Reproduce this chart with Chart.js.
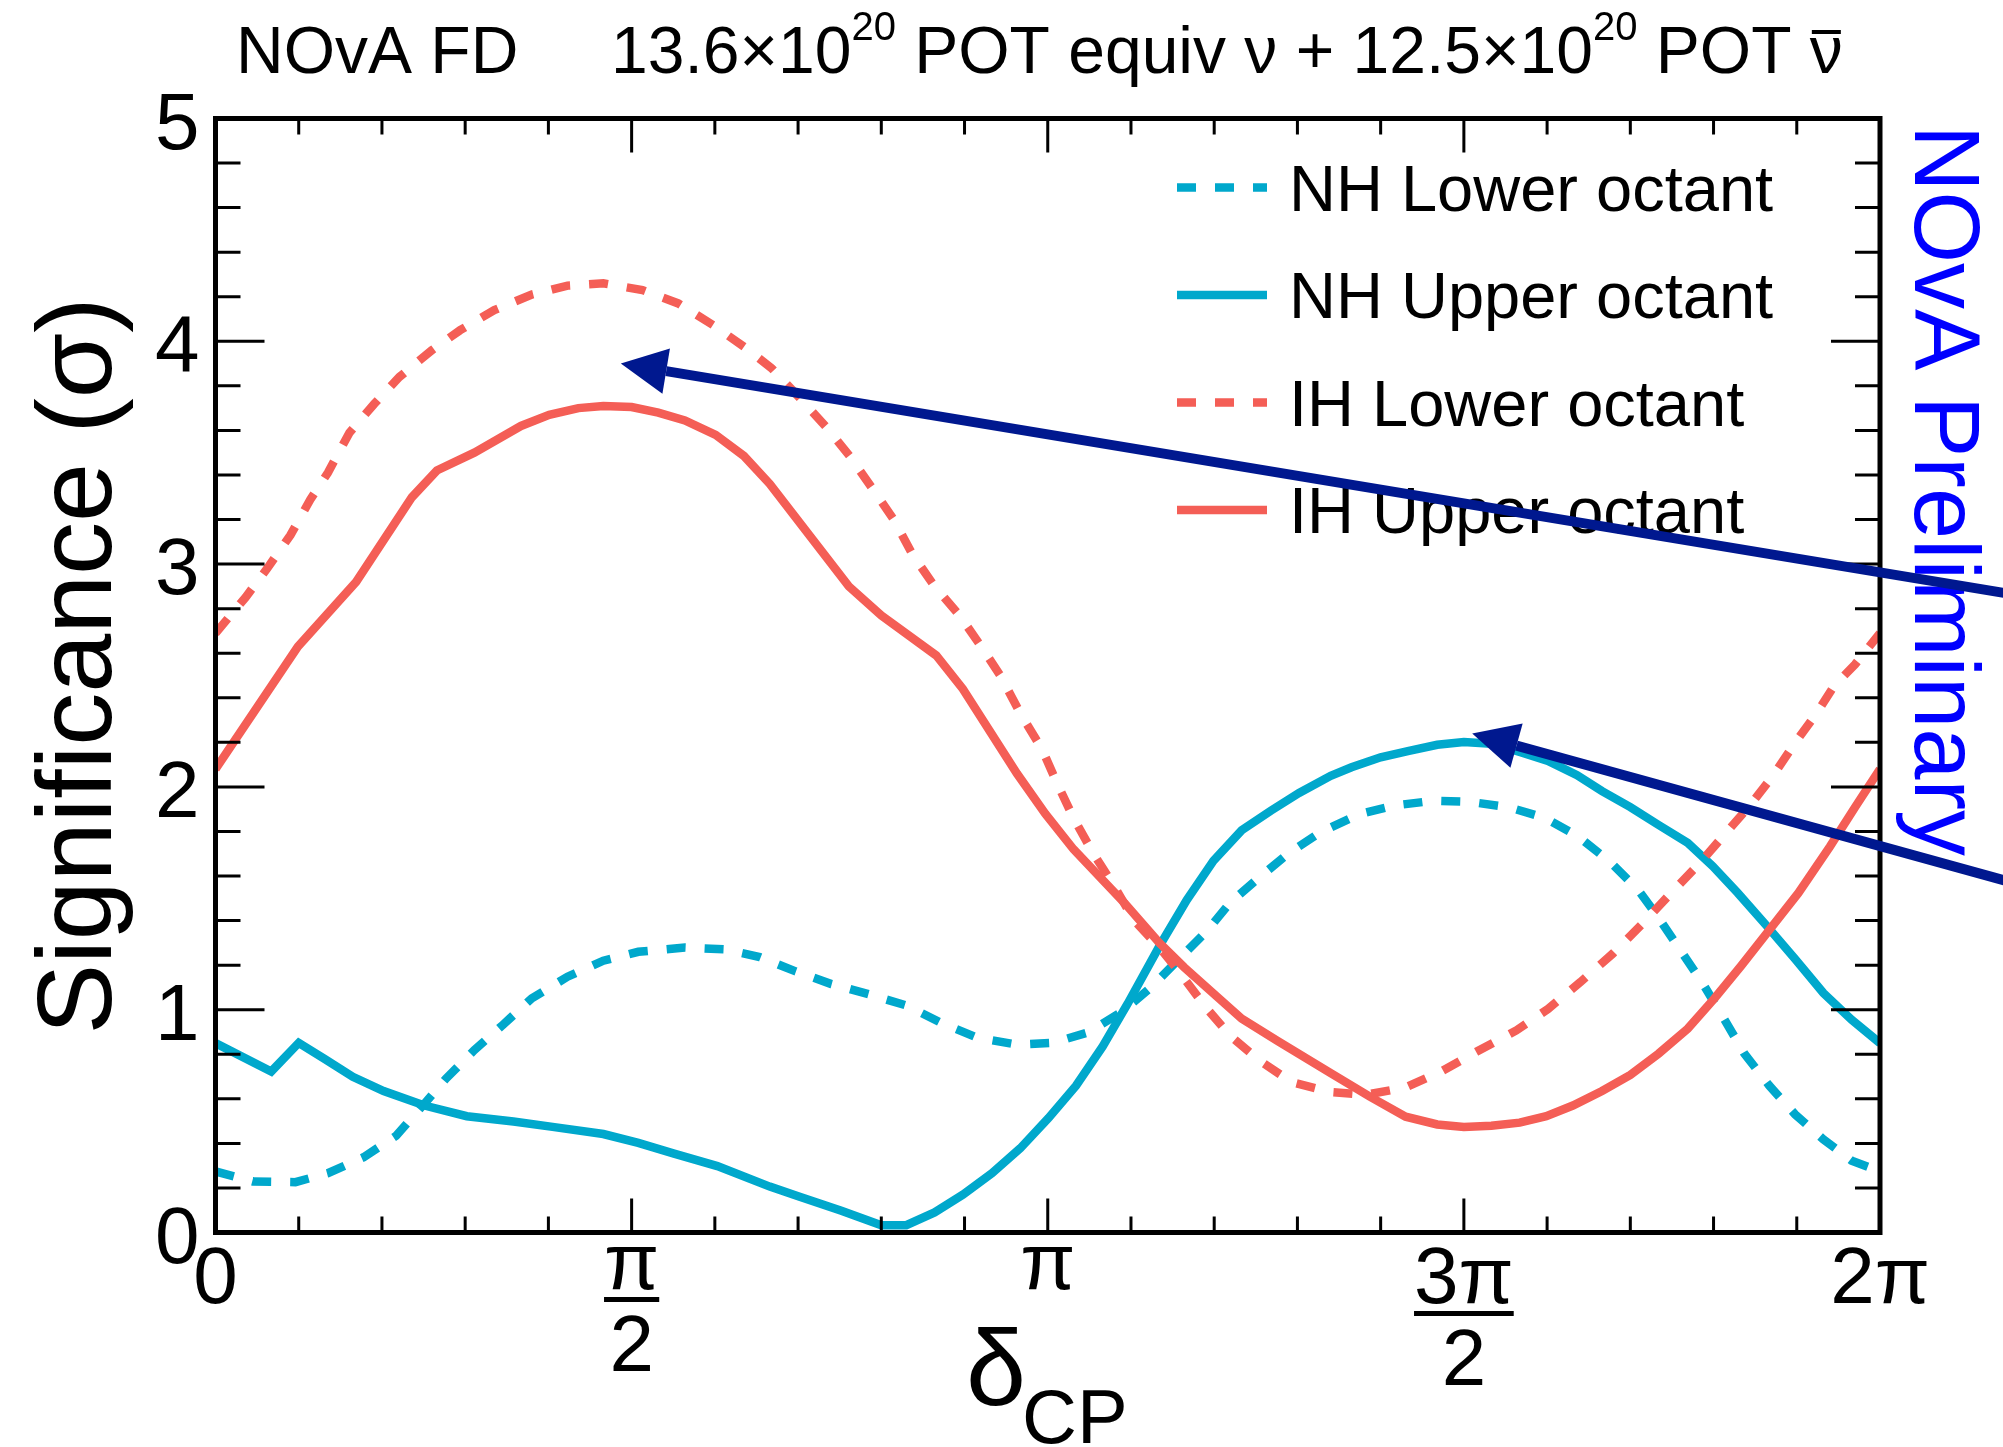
<!DOCTYPE html>
<html>
<head>
<meta charset="utf-8">
<title>NOvA FD significance vs deltaCP</title>
<script src="https://cdn.jsdelivr.net/npm/chart.js@4.4.1/dist/chart.umd.min.js"></script>
<style>
  html, body { margin: 0; padding: 0; background: #fff; }
  canvas { display: block; }
</style>
</head>
<body>
<canvas id="sigChart" width="2003" height="1447"></canvas>
<script>
// delta_CP in units of pi, significance in sigma
const nhLowerX = [0, 0.045, 0.096, 0.135, 0.178, 0.217, 0.251, 0.277, 0.311, 0.345, 0.380, 0.423, 0.466, 0.508, 0.564, 0.612, 0.654, 0.697, 0.740, 0.787, 0.830, 0.873, 0.915, 0.963, 1.006, 1.049, 1.091, 1.126, 1.160, 1.190, 1.220, 1.255, 1.289, 1.328, 1.374, 1.417, 1.464, 1.507, 1.554, 1.597, 1.636, 1.674, 1.709, 1.734, 1.760, 1.786, 1.812, 1.837, 1.867, 1.898, 1.932, 1.966, 2.0];
const nhLower = [0.274, 0.229, 0.226, 0.266, 0.338, 0.434, 0.578, 0.691, 0.819, 0.931, 1.051, 1.148, 1.220, 1.260, 1.279, 1.271, 1.236, 1.172, 1.115, 1.067, 1.019, 0.939, 0.875, 0.843, 0.851, 0.899, 0.995, 1.107, 1.236, 1.348, 1.484, 1.596, 1.701, 1.797, 1.877, 1.917, 1.938, 1.933, 1.909, 1.861, 1.781, 1.669, 1.540, 1.412, 1.268, 1.124, 0.963, 0.803, 0.659, 0.530, 0.418, 0.322, 0.274];

const nhUpperX = [0, 0.067, 0.100, 0.131, 0.165, 0.202, 0.251, 0.302, 0.358, 0.405, 0.466, 0.508, 0.551, 0.603, 0.666, 0.701, 0.752, 0.800, 0.830, 0.864, 0.898, 0.933, 0.967, 1.001, 1.034, 1.066, 1.096, 1.134, 1.167, 1.199, 1.233, 1.268, 1.302, 1.340, 1.365, 1.400, 1.434, 1.468, 1.500, 1.533, 1.567, 1.601, 1.636, 1.666, 1.700, 1.734, 1.769, 1.799, 1.829, 1.863, 1.898, 1.932, 1.966, 2.0];
const nhUpper = [0.85, 0.723, 0.851, 0.779, 0.699, 0.635, 0.570, 0.522, 0.498, 0.474, 0.442, 0.402, 0.354, 0.298, 0.206, 0.162, 0.098, 0.033, 0.033, 0.090, 0.170, 0.266, 0.378, 0.514, 0.659, 0.835, 1.027, 1.284, 1.492, 1.668, 1.805, 1.893, 1.973, 2.05, 2.088, 2.133, 2.162, 2.189, 2.201, 2.194, 2.157, 2.117, 2.053, 1.981, 1.909, 1.829, 1.749, 1.644, 1.524, 1.380, 1.228, 1.075, 0.955, 0.85];

const ihLowerX = [0, 0.036, 0.062, 0.090, 0.114, 0.135, 0.161, 0.191, 0.221, 0.260, 0.294, 0.335, 0.380, 0.423, 0.466, 0.513, 0.556, 0.599, 0.637, 0.668, 0.701, 0.735, 0.763, 0.791, 0.815, 0.838, 0.864, 0.894, 0.920, 0.943, 0.967, 0.993, 1.012, 1.031, 1.055, 1.079, 1.104, 1.134, 1.160, 1.190, 1.220, 1.255, 1.293, 1.340, 1.382, 1.430, 1.473, 1.515, 1.563, 1.601, 1.640, 1.679, 1.713, 1.747, 1.782, 1.812, 1.842, 1.872, 1.898, 1.923, 1.945, 1.970, 2.0];
const ihLower = [2.69, 2.85, 2.98, 3.13, 3.29, 3.41, 3.59, 3.72, 3.84, 3.96, 4.05, 4.14, 4.21, 4.25, 4.26, 4.23, 4.17, 4.07, 3.97, 3.88, 3.75, 3.61, 3.48, 3.33, 3.20, 3.04, 2.90, 2.77, 2.63, 2.50, 2.33, 2.17, 2.01, 1.86, 1.70, 1.56, 1.40, 1.28, 1.16, 1.01, 0.88, 0.77, 0.675, 0.63, 0.618, 0.651, 0.723, 0.811, 0.907, 1.003, 1.124, 1.252, 1.38, 1.516, 1.652, 1.781, 1.909, 2.053, 2.198, 2.326, 2.454, 2.55, 2.69];

const ihUpperX = [0, 0.099, 0.169, 0.236, 0.266, 0.311, 0.367, 0.401, 0.436, 0.466, 0.500, 0.532, 0.564, 0.601, 0.635, 0.666, 0.761, 0.800, 0.866, 0.898, 0.963, 0.997, 1.031, 1.092, 1.134, 1.164, 1.203, 1.233, 1.276, 1.340, 1.387, 1.430, 1.468, 1.500, 1.533, 1.567, 1.599, 1.631, 1.666, 1.700, 1.734, 1.769, 1.801, 1.833, 1.865, 1.902, 1.940, 1.970, 2.0];
const ihUpper = [2.08, 2.63, 2.92, 3.30, 3.42, 3.50, 3.62, 3.67, 3.70, 3.71, 3.705, 3.68, 3.645, 3.58, 3.485, 3.36, 2.90, 2.77, 2.59, 2.44, 2.06, 1.88, 1.72, 1.48, 1.30, 1.19, 1.06, 0.96, 0.86, 0.715, 0.61, 0.52, 0.485, 0.474, 0.479, 0.493, 0.522, 0.57, 0.635, 0.707, 0.803, 0.915, 1.05, 1.196, 1.348, 1.524, 1.733, 1.909, 2.08];

const seriesNames = ['NH Lower octant', 'NH Upper octant', 'IH Lower octant', 'IH Upper octant'];

const xTickValues = [0, 0.5, 1, 1.5, 2];
const xTickLabels = [['0'], ['π', '2'], ['π'], ['3π', '2'], ['2π']];
const yTickValues = [0, 1, 2, 3, 4, 5];
const yTickLabels = ['0', '1', '2', '3', '4', '5'];

// arrow tips and tails [x, y] in data units (tails run off the right edge)
const arrowTips = [[0.487, 3.90], [1.510, 2.24]];
const arrowTails = [[2.15, 2.87], [2.15, 1.58]];

const CYAN = 'rgb(0,168,204)';
const RED = 'rgb(244,94,86)';
const NAVY = 'rgb(0,24,143)';
const FONT = "'Liberation Sans', Arial, sans-serif";
const LW = 8.5;

function pts(xs, ys) {
  return xs.map((x, i) => ({ x: x, y: ys[i] }));
}

const decor = {
  id: 'decor',
  afterDatasetsDraw(chart) {
    const ctx = chart.ctx;
    const a = chart.chartArea;
    const xs = chart.scales.x;
    const ys = chart.scales.y;
    ctx.save();

    // frame
    ctx.strokeStyle = '#000';
    ctx.lineWidth = 5;
    ctx.setLineDash([]);
    ctx.strokeRect(a.left, a.top, a.right - a.left, a.bottom - a.top);

    // ticks on all four sides, pointing inwards
    ctx.lineWidth = 3;
    ctx.beginPath();
    for (let i = 0; i <= 20; i++) {
      const px = xs.getPixelForValue(i * 0.1);
      const len = i % 5 === 0 ? 34 : 16;
      ctx.moveTo(px, a.bottom); ctx.lineTo(px, a.bottom - len);
      ctx.moveTo(px, a.top); ctx.lineTo(px, a.top + len);
    }
    for (let i = 0; i <= 25; i++) {
      const py = ys.getPixelForValue(i * 0.2);
      const len = i % 5 === 0 ? 49 : 25;
      ctx.moveTo(a.left, py); ctx.lineTo(a.left + len, py);
      ctx.moveTo(a.right, py); ctx.lineTo(a.right - len, py);
    }
    ctx.stroke();

    ctx.fillStyle = '#000';
    // y tick labels
    ctx.font = '80px ' + FONT;
    ctx.textAlign = 'right';
    ctx.textBaseline = 'alphabetic';
    yTickValues.forEach((v, i) => {
      ctx.fillText(yTickLabels[i], a.left - 16, ys.getPixelForValue(v) + 30);
    });

    // x tick labels (fractions of pi)
    ctx.textAlign = 'center';
    const labelTop = a.bottom + 14;
    xTickValues.forEach((v, i) => {
      const px = xs.getPixelForValue(v);
      const lab = xTickLabels[i];
      const m = ctx.measureText(lab[0]);
      const base = labelTop + m.actualBoundingBoxAscent;
      ctx.fillText(lab[0], px, base);
      if (lab.length > 1) {
        const barY = base + 11;
        ctx.fillRect(px - m.width / 2, barY - 2.5, m.width, 5);
        const d = ctx.measureText(lab[1]);
        ctx.fillText(lab[1], px, barY + 15 + d.actualBoundingBoxAscent);
      }
    });

    // x axis title
    ctx.textAlign = 'left';
    ctx.font = '108px ' + FONT;
    ctx.fillText('δ', 966, 1405);
    const dw = ctx.measureText('δ').width;
    ctx.font = '76px ' + FONT;
    ctx.fillText('CP', 966 + dw - 4, 1443);

    // y axis title
    ctx.save();
    ctx.translate(111, 666);
    ctx.rotate(-Math.PI / 2);
    ctx.textAlign = 'center';
    ctx.font = '106px ' + FONT;
    ctx.fillText('Significance (σ)', 0, 0);
    ctx.restore();

    // NOvA Preliminary
    ctx.save();
    ctx.translate(1915, 125);
    ctx.rotate(Math.PI / 2);
    ctx.textAlign = 'left';
    ctx.fillStyle = '#0000ff';
    ctx.font = '92px ' + FONT;
    ctx.fillText('NOvA Preliminary', 0, 0);
    ctx.restore();

    // title line
    ctx.textAlign = 'left';
    ctx.font = '66px ' + FONT;
    ctx.fillText('NOvA FD', 236, 73);
    const parts = [
      ['13.6×10', 0], ['20', 1], [' POT equiv ν + 12.5×10', 0], ['20', 1], [' POT ν', 0]
    ];
    let tx = 611;
    parts.forEach(p => {
      ctx.font = (p[1] ? '40px ' : '66px ') + FONT;
      ctx.fillText(p[0], tx, p[1] ? 40 : 73);
      tx += ctx.measureText(p[0]).width;
    });
    ctx.font = '66px ' + FONT;
    const nuW = ctx.measureText('ν').width;
    ctx.fillRect(tx - nuW + 2, 30, nuW - 4, 4);

    // legend
    chart.data.datasets.forEach((ds, i) => {
      const ly = 187.5 + i * 107.5;
      ctx.strokeStyle = ds.borderColor;
      ctx.lineWidth = LW;
      ctx.setLineDash(ds.borderDash || []);
      ctx.beginPath();
      ctx.moveTo(1177, ly); ctx.lineTo(1267, ly);
      ctx.stroke();
      ctx.setLineDash([]);
      ctx.fillStyle = '#000';
      ctx.font = '65px ' + FONT;
      ctx.fillText(ds.label, 1289, ly + 23);
    });

    // arrows
    ctx.strokeStyle = NAVY;
    ctx.fillStyle = NAVY;
    ctx.lineWidth = 10;
    arrowTips.forEach((tip, i) => {
      const x1 = xs.getPixelForValue(arrowTails[i][0]);
      const y1 = ys.getPixelForValue(arrowTails[i][1]);
      const x2 = xs.getPixelForValue(tip[0]);
      const y2 = ys.getPixelForValue(tip[1]);
      const ang = Math.atan2(y2 - y1, x2 - x1);
      const hl = 46, hw = 23;
      const bx = x2 - hl * Math.cos(ang), by = y2 - hl * Math.sin(ang);
      ctx.beginPath();
      ctx.moveTo(x1, y1); ctx.lineTo(bx, by);
      ctx.stroke();
      ctx.beginPath();
      ctx.moveTo(x2, y2);
      ctx.lineTo(bx + hw * Math.sin(ang), by - hw * Math.cos(ang));
      ctx.lineTo(bx - hw * Math.sin(ang), by + hw * Math.cos(ang));
      ctx.closePath();
      ctx.fill();
    });

    ctx.restore();
  }
};

const ctx = document.getElementById('sigChart').getContext('2d');
const sigChart = new Chart(ctx, {
  type: 'line',
  data: {
    datasets: [
      { label: seriesNames[0], data: pts(nhLowerX, nhLower), borderColor: CYAN, borderWidth: LW, borderDash: [19, 19], order: 4 },
      { label: seriesNames[1], data: pts(nhUpperX, nhUpper), borderColor: CYAN, borderWidth: LW, order: 3 },
      { label: seriesNames[2], data: pts(ihLowerX, ihLower), borderColor: RED, borderWidth: LW, borderDash: [19, 19], order: 2 },
      { label: seriesNames[3], data: pts(ihUpperX, ihUpper), borderColor: RED, borderWidth: LW, order: 1 }
    ]
  },
  options: {
    responsive: false,
    animation: false,
    devicePixelRatio: 1,
    layout: { padding: { left: 215.5, right: 123, top: 118.5, bottom: 214.5 } },
    elements: {
      point: { radius: 0 },
      line: { tension: 0, fill: false }
    },
    scales: {
      x: { type: 'linear', min: 0, max: 2, display: false },
      y: { type: 'linear', min: 0, max: 5, display: false }
    },
    plugins: {
      legend: { display: false },
      tooltip: { enabled: false },
      title: { display: false }
    }
  },
  plugins: [decor]
});
</script>
</body>
</html>
